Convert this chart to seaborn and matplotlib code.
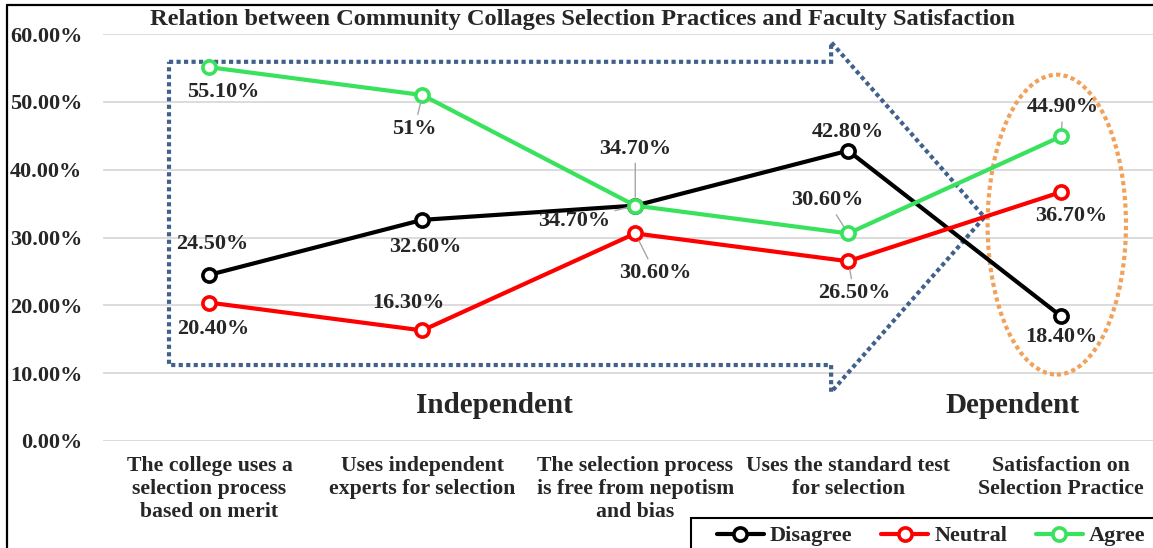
import numpy as np
import pandas as pd
import matplotlib
matplotlib.use("Agg")
import matplotlib.pyplot as plt
import seaborn as sns
from matplotlib.patches import Ellipse, Polygon, Rectangle
from matplotlib.lines import Line2D
from matplotlib.ticker import PercentFormatter

# data
categories = [
    "The college uses a\nselection process\nbased on merit",
    "Uses independent\nexperts for selection",
    "The selection process\nis free from nepotism\nand bias",
    "Uses the standard test\nfor selection",
    "Satisfaction on\nSelection Practice",
]
disagree = [0.245, 0.326, 0.347, 0.428, 0.184]
neutral = [0.204, 0.163, 0.306, 0.265, 0.367]
agree = [0.551, 0.510, 0.347, 0.306, 0.449]
disagree_labels = ["24.50%", "32.60%", "34.70%", "42.80%", "18.40%"]
neutral_labels = ["20.40%", "16.30%", "30.60%", "26.50%", "36.70%"]
agree_labels = ["55.10%", "51%", "34.70%", "30.60%", "44.90%"]
series_names = ["Disagree", "Neutral", "Agree"]
colors = ["#000000", "#FF0000", "#38E25C"]
title = "Relation between Community Collages Selection Practices and Faculty Satisfaction"

W, H = 1153, 548
FS = 16

df = pd.DataFrame({
    "pos": list(range(len(categories))) * 3,
    "value": disagree + neutral + agree,
    "series": np.repeat(series_names, len(categories)),
})

sns.set_theme(style="white")
plt.rcParams["font.family"] = ["Liberation Serif", "DejaVu Serif"]
plt.rcParams["font.weight"] = "bold"

fig = plt.figure(figsize=(W / 100, H / 100), dpi=100)
ax = fig.add_axes([103 / W, 107 / H, 1064.5 / W, 407 / H])

for name, c in zip(series_names, colors):
    sub = df[df["series"] == name]
    sns.lineplot(data=sub, x="pos", y="value", ax=ax, color=c, label=name,
                 marker="o", markersize=9.5, markerfacecolor="white",
                 markeredgecolor=c, markeredgewidth=2.6, linewidth=3.0, zorder=4)

ax.set_xlim(-0.5, 4.5)
ax.set_ylim(0, 0.6)
ax.set_yticks(np.arange(0, 0.61, 0.1))
ax.yaxis.set_major_formatter(PercentFormatter(1.0, decimals=2))
ax.set_xticks(range(len(categories)))
ax.set_xticklabels(categories, linespacing=1.18)
ax.set_xlabel("")
ax.set_ylabel("")
ax.grid(axis="y", color="#D9D9D9", linewidth=1.3)
ax.set_axisbelow(True)
for s in ax.spines.values():
    s.set_visible(False)
ax.tick_params(axis="x", length=0, labelsize=15.7, pad=11)
ax.tick_params(axis="y", length=0, labelsize=16, pad=15)

# data labels: offsets in pixels (dx, dy downwards), leader line flag
offsets = {
    "Disagree": [(3, -31, False), (3, 27, False), (-61, 15, True), (0, -19, False), (0, 21, False)],
    "Neutral": [(4, 26, False), (-14, -27, False), (20, 40, True), (6, 32, True), (10, 24, False)],
    "Agree": [(14, 25, False), (-8, 34, True), (0, -57, True), (-21, -33, True), (2, -29, True)],
}
labels = {"Disagree": disagree_labels, "Neutral": neutral_labels, "Agree": agree_labels}
values = {"Disagree": disagree, "Neutral": neutral, "Agree": agree}
for name in series_names:
    for i, (v, lab, (dx, dy, lead)) in enumerate(zip(values[name], labels[name], offsets[name])):
        arrow = None
        if lead:
            arrow = dict(arrowstyle="-", color="#A6A6A6", lw=1.0, shrinkA=1, shrinkB=6)
        ax.annotate(lab, xy=(i, v), xytext=(dx * 0.72, -dy * 0.72), textcoords="offset points",
                    ha="center", va="center", fontsize=FS, fontweight="bold",
                    arrowprops=arrow, zorder=6)

# dotted block arrow around the independent variables
arrow_shape = Polygon([(-0.19, 0.559), (2.92, 0.559), (2.92, 0.588), (3.64, 0.330),
                       (2.92, 0.072), (2.92, 0.112), (-0.19, 0.112)], closed=True,
                      fill=False, edgecolor="#41618C", linewidth=3, linestyle=(0, (1, 0.8)),
                      zorder=3)
arrow_shape.set_capstyle("butt")
ax.add_patch(arrow_shape)

oval = Ellipse((3.98, 0.319), 0.65, 0.442, fill=False, edgecolor="#F1A159",
               linewidth=3, linestyle=(0, (1, 0.8)), zorder=3)
oval.set_capstyle("butt")
ax.add_patch(oval)

ax.text(1.34, 0.053, "Independent", ha="center", va="center", fontsize=21, fontweight="bold")
ax.text(3.77, 0.053, "Dependent", ha="center", va="center", fontsize=21, fontweight="bold")

fig.text(582 / W, 1 - 20 / H, title, ha="center", va="center", fontsize=17.6, fontweight="bold")

handles, labs = ax.get_legend_handles_labels()
if ax.get_legend() is not None:
    ax.get_legend().remove()
leg = fig.legend(handles, labs, loc="upper left", bbox_to_anchor=(708 / W, 1 - 517 / H),
                 bbox_transform=fig.transFigure, ncol=3, frameon=False, fontsize=FS,
                 handlelength=2.1, handletextpad=0.28, columnspacing=1.3, borderpad=0.4,
                 borderaxespad=0)
# legend box, cropped by the image edge
fig.add_artist(Rectangle((691 / W, -0.1), 0.5, 0.1 + 1 - 518 / H, transform=fig.transFigure,
                         fill=False, edgecolor="black", linewidth=1.5))

# chart-area border, cropped at right and bottom in the reference
fig.add_artist(Line2D([7 / W, 7 / W], [0, 1 - 5 / H], color="black", lw=1.6, transform=fig.transFigure))
fig.add_artist(Line2D([7 / W, 1], [1 - 5 / H, 1 - 5 / H], color="black", lw=1.6, transform=fig.transFigure))

fig.savefig("out.png", dpi=100)
